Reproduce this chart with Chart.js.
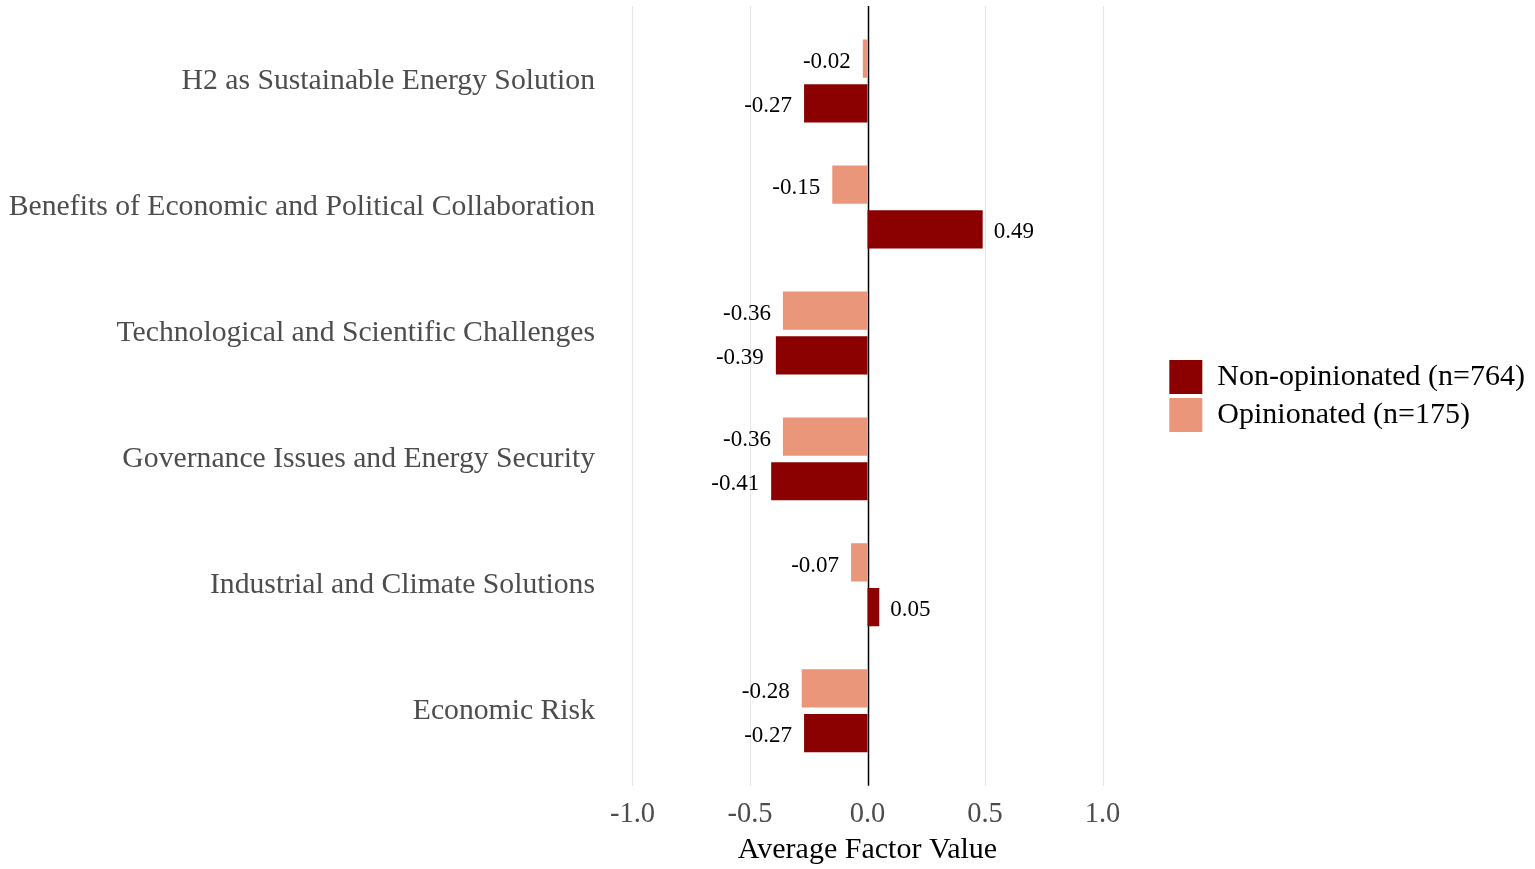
<!DOCTYPE html>
<html lang="en">
<head>
  <meta charset="UTF-8" />
  <title>Average Factor Value by Group</title>
  <script src="https://cdn.jsdelivr.net/npm/chart.js"></script>
  <style>
    html, body { margin: 0; padding: 0; background: #fff; }
    #wrap { width: 1535px; height: 869px; position: relative; }
  </style>
</head>
<body>
  <div id="wrap"><canvas id="factorChart"></canvas></div>
  <script>
    // ---- data ----
    const factors = [
      'H2 as Sustainable Energy Solution',
      'Benefits of Economic and Political Collaboration',
      'Technological and Scientific Challenges',
      'Governance Issues and Energy Security',
      'Industrial and Climate Solutions',
      'Economic Risk'
    ];
    const opinionated = [-0.02, -0.15, -0.36, -0.36, -0.07, -0.28];
    const nonOpinionated = [-0.27, 0.49, -0.39, -0.41, 0.05, -0.27];
    const xTicks = [-1.0, -0.5, 0.0, 0.5, 1.0];
    const xTitle = 'Average Factor Value';

    const SERIF = '"Liberation Serif", "Times New Roman", serif';

    // vertical grid lines + zero line, slightly taller than the chart area
    const gridPlugin = {
      id: 'gridLines',
      beforeDatasetsDraw(chart) {
        const { ctx, chartArea, scales } = chart;
        const top = chartArea.top - 12, bottom = chartArea.bottom + 12;
        ctx.save();
        xTicks.forEach(v => {
          const x = Math.round(scales.x.getPixelForValue(v)) + 0.5;
          ctx.beginPath();
          ctx.strokeStyle = v === 0 ? '#000' : '#e6e6e6';
          ctx.lineWidth = v === 0 ? 1.5 : 1.2;
          ctx.moveTo(x, top);
          ctx.lineTo(x, bottom);
          ctx.stroke();
        });
        ctx.restore();
      }
    };

    // value labels beside the bar ends, axis title centred on zero
    const valueLabels = {
      id: 'valueLabels',
      afterDatasetsDraw(chart) {
        const { ctx, chartArea, scales } = chart;
        ctx.save();
        ctx.font = '23px ' + SERIF;
        ctx.fillStyle = '#000';
        ctx.textBaseline = 'middle';
        chart.data.datasets.forEach((ds, di) => {
          chart.getDatasetMeta(di).data.forEach((bar, i) => {
            const v = ds.data[i];
            const txt = v.toFixed(2);
            if (v < 0) {
              ctx.textAlign = 'right';
              ctx.fillText(txt, bar.x - 12, bar.y + 3);
            } else {
              ctx.textAlign = 'left';
              ctx.fillText(txt, bar.x + 11, bar.y + 3);
            }
          });
        });
        ctx.font = '30px ' + SERIF;
        ctx.textAlign = 'center';
        ctx.textBaseline = 'alphabetic';
        ctx.fillText(xTitle, scales.x.getPixelForValue(0), chartArea.bottom + 84);
        ctx.restore();
      }
    };

    new Chart(document.getElementById('factorChart'), {
      type: 'bar',
      data: {
        labels: factors,
        datasets: [
          {
            label: 'Opinionated (n=175)',
            data: opinionated,
            backgroundColor: '#E9967A'
          },
          {
            label: 'Non-opinionated (n=764)',
            data: nonOpinionated,
            backgroundColor: '#8B0000'
          }
        ]
      },
      options: {
        indexAxis: 'y',
        responsive: true,
        maintainAspectRatio: false,
        animation: false,
        categoryPercentage: 0.71,
        barPercentage: 0.855,
        layout: { padding: { top: 18, right: 0, bottom: 13, left: 0 } },
        plugins: {
          legend: {
            position: 'right',
            fullSize: false,
            reverse: true,
            labels: {
              boxWidth: 33,
              boxHeight: 34,
              padding: 4,
              color: '#000',
              font: { family: SERIF, size: 30 }
            }
          },
          tooltip: { enabled: false }
        },
        scales: {
          x: {
            min: -1.117,
            max: 1.267,
            afterBuildTicks(scale) {
              scale.ticks = xTicks.map(v => ({ value: v }));
            },
            grid: { display: false, drawTicks: false },
            border: { display: false },
            ticks: {
              color: '#4D4D4D',
              padding: 24,
              font: { family: SERIF, size: 28.5 },
              callback: v => Number(v).toFixed(1)
            }
          },
          y: {
            grid: { display: false, drawTicks: false },
            border: { display: false },
            afterFit(scale) {
              scale.width = 605;
              scale.paddingTop = 0;
              scale.paddingBottom = 0;
            },
            ticks: {
              color: '#4D4D4D',
              padding: 10,
              font: { family: SERIF, size: 29.7 }
            }
          }
        }
      },
      plugins: [gridPlugin, valueLabels]
    });
  </script>
</body>
</html>
